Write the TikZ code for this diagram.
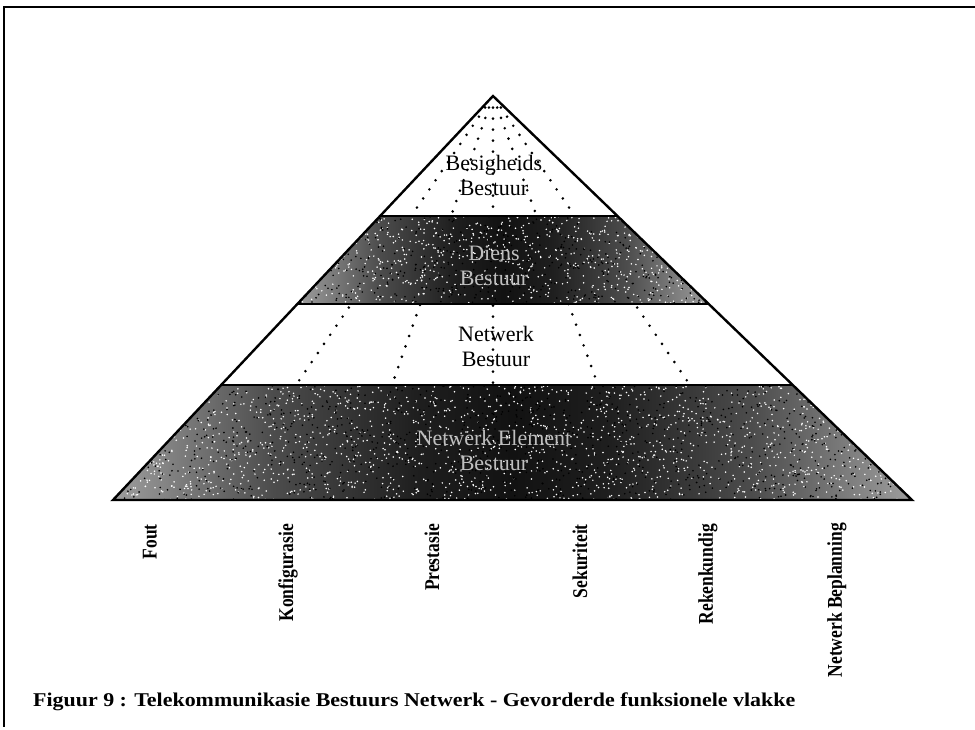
\documentclass[tikz,border=0pt]{standalone}
\usepackage{fontspec}
\setmainfont{Liberation Serif}
\usetikzlibrary{calc}
\pgfdeclarehorizontalshading{bandshade}{100bp}{%
  color(0bp)=(black!38); color(25bp)=(black!38); color(35bp)=(black!70);
  color(44bp)=(black!88); color(50bp)=(black!93); color(56bp)=(black!88);
  color(65bp)=(black!70); color(75bp)=(black!38); color(100bp)=(black!38)}
\begin{document}
\begin{tikzpicture}[x=1pt,y=-1pt,
  frameline/.style={line width=2pt},
  outline/.style={line width=2.4pt, line join=miter},
  divider/.style={line width=2.4pt},
  dotline/.style={line width=2.9pt, line cap=round, dash pattern=on 0pt off 11pt},
  bandfill/.style={shading=bandshade},
  layertext/.style={font=\fontsize{22}{25}\selectfont, align=center, inner sep=0pt},
  darktext/.style={layertext, text=white!75!black},
  axislabel/.style={font=\bfseries\fontsize{17.5}{20}\selectfont, rotate=90, anchor=east, inner sep=0pt},
  captiontext/.style={font=\bfseries\fontsize{19.5}{22}\selectfont, anchor=west, inner sep=0pt}
]
\useasboundingbox (0,0) rectangle (975,729);

% frame of the figure
\coordinate (FTR) at (975,7);
\coordinate (FTL) at (4,7);
\coordinate (FBL) at (4,727);
\draw[frameline] (FTR) -- (FTL) -- (FBL);

% pyramid corners
\coordinate (A)  at (493,96);
\coordinate (BL) at (113,500);
\coordinate (BR) at (912,500);

% layer boundaries on the two sides
\coordinate (L1) at ($(A)!0.297!(BL)$);
\coordinate (R1) at ($(A)!0.297!(BR)$);
\coordinate (L2) at ($(A)!0.515!(BL)$);
\coordinate (R2) at ($(A)!0.515!(BR)$);
\coordinate (L3) at ($(A)!0.715!(BL)$);
\coordinate (R3) at ($(A)!0.715!(BR)$);

% feet of the dotted functional-area lines
\coordinate (D1) at (296,385);
\coordinate (D2) at (392,385);
\coordinate (D3) at (493,385);
\coordinate (D4) at (598,385);
\coordinate (D5) at (690,385);

\foreach \d in {D1,D2,D3,D4,D5}
  \draw[dotline] ($(A)!0.04!(\d)$) -- (\d);

% shaded layers
\fill[bandfill] (L1) -- (R1) -- (R2) -- (L2) -- cycle;
\fill[bandfill] (L3) -- (R3) -- (BR) -- (BL) -- cycle;

% grain in the shaded layers
\begin{scope}
  \clip (L1) -- (R1) -- (R2) -- (L2) -- cycle;
  \pgfmathsetseed{11}
  \foreach \i in {1,...,800}{
    \pgfmathsetmacro{\px}{297+412*rnd}
    \pgfmathsetmacro{\py}{216+88*rnd}
    \fill[white] (\px,\py) circle (0.85);
  }
  \foreach \i in {1,...,500}{
    \pgfmathsetmacro{\px}{297+412*rnd}
    \pgfmathsetmacro{\py}{216+88*rnd}
    \fill[black] (\px,\py) circle (0.9);
  }
\end{scope}
\begin{scope}
  \clip (L3) -- (R3) -- (BR) -- (BL) -- cycle;
  \pgfmathsetseed{23}
  \foreach \i in {1,...,1700}{
    \pgfmathsetmacro{\px}{113+799*rnd}
    \pgfmathsetmacro{\py}{385+115*rnd}
    \fill[white] (\px,\py) circle (0.85);
  }
  \foreach \i in {1,...,1100}{
    \pgfmathsetmacro{\px}{113+799*rnd}
    \pgfmathsetmacro{\py}{385+115*rnd}
    \fill[black] (\px,\py) circle (0.9);
  }
\end{scope}

% outline and layer dividers
\draw[outline] (A) -- (BR) -- (BL) -- cycle;
\draw[divider] (L1) -- (R1);
\draw[divider] (L2) -- (R2);
\draw[divider] (L3) -- (R3);

% layer names
\node[layertext] (business) at (494,175) {Besigheids\\Bestuur};
\node[darktext]  (service)  at (494,266) {Diens\\Bestuur};
\node[layertext] (network)  at (496,346) {Netwerk\\Bestuur};
\node[darktext]  (element)  at (494,450) {Netwerk Element\\Bestuur};

% functional areas
\node[axislabel] (fault)    at (150,524) {\scalebox{1}[1.2]{Fout}};
\node[axislabel] (config)   at (288,524) {\scalebox{1}[1.2]{Konfigurasie}};
\node[axislabel] (perf)     at (432,524) {\scalebox{1}[1.2]{Prestasie}};
\node[axislabel] (security) at (580,524) {\scalebox{1}[1.2]{Sekuriteit}};
\node[axislabel] (account)  at (708,524) {\scalebox{1}[1.2]{Rekenkundig}};
\node[axislabel] (planning) at (837,523) {\scalebox{1}[1.2]{Netwerk Beplanning}};

% caption
\node[captiontext] (caption) at (33,702) {\scalebox{1.125}[1]{Figuur 9 : Telekommunikasie Bestuurs Netwerk - Gevorderde funksionele vlakke}};
\end{tikzpicture}
\end{document}
